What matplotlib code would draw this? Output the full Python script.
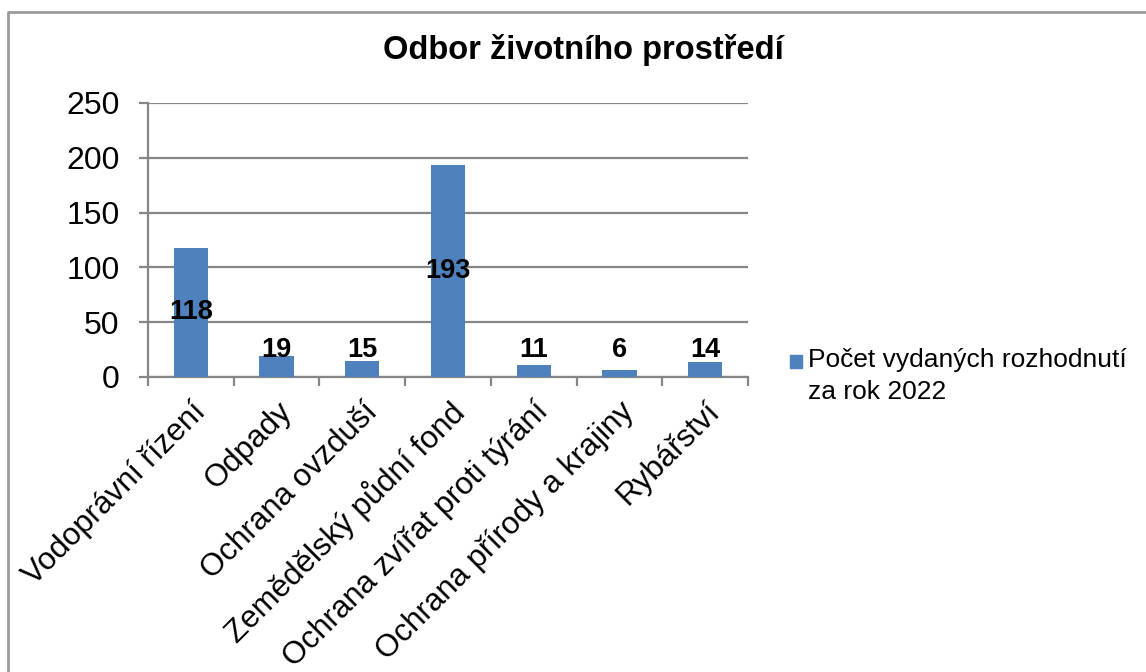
import matplotlib
matplotlib.use("Agg")
import matplotlib.pyplot as plt
from matplotlib.patches import Rectangle
from matplotlib.lines import Line2D
import numpy as np

categories = ["Vodoprávní řízení", "Odpady", "Ochrana ovzduší", "Zemědělský půdní fond",
              "Ochrana zvířat proti týrání", "Ochrana přírody a krajiny", "Rybářství"]
values = [118, 19, 15, 193, 11, 6, 14]
yticks = [0, 50, 100, 150, 200, 250]
title = "Odbor životního prostředí"
series_name = "Počet vydaných rozhodnutí\nza rok 2022"

plt.rcParams['font.family'] = ['Liberation Sans', 'DejaVu Sans']

W, H = 1146, 672
fig = plt.figure(figsize=(W / 100, H / 100), dpi=100)
ax = fig.add_axes([148 / W, 1 - 377 / H, 600 / W, 274 / H])

bar_color = "#4F81BD"
grid_color = "#868686"
x = np.arange(len(categories))
bars = ax.bar(x, values, width=0.4, color=bar_color, zorder=3)

ax.set_xlim(-0.5, len(categories) - 0.5)
ax.set_ylim(0, 250)
ax.set_yticks(yticks)
ax.set_yticklabels([str(t) for t in yticks], fontsize=23)
ax.yaxis.grid(True, color=grid_color, linewidth=1.6, zorder=0)
ax.set_axisbelow(True)

for s in ["top", "right"]:
    ax.spines[s].set_visible(False)
for s in ["left", "bottom"]:
    ax.spines[s].set_color(grid_color)
    ax.spines[s].set_linewidth(1.6)

ax.tick_params(axis="y", length=6.5, width=1.6, color=grid_color, pad=14)
# x ticks between categories
ax.set_xticks(np.arange(len(categories) + 1) - 0.5)
ax.set_xticklabels([])
ax.tick_params(axis="x", length=6.5, width=1.6, color=grid_color)
ax.set_xticks(x, minor=True)
ax.set_xticklabels(categories, minor=True, fontsize=22.5, rotation=45,
                   ha="right", va="top", rotation_mode="anchor")
ax.tick_params(axis="x", which="minor", length=0, pad=14)

for xi, v in zip(x, values):
    ypos = max(v / 2, 24.5)
    ax.text(xi, ypos, str(v), ha="center", va="center", fontsize=19.5,
            fontweight="bold", color="black", zorder=4)

fig.text(583 / W, 1 - 50 / H, title, ha="center", va="center",
         fontsize=23.5, fontweight="bold")

# legend (manual)
fig.patches.append(Rectangle((790 / W, 1 - 368 / H), 12 / W, 13 / H,
                             transform=fig.transFigure, color=bar_color))
fig.text(808 / W, 1 - 348 / H, series_name, ha="left", va="top",
         fontsize=19, linespacing=1.42)

# outer chart frame (partially visible)
fig.add_artist(Line2D([7.5 / W, 7.5 / W, 1.0], [0, 1 - 11.5 / H, 1 - 11.5 / H],
                      transform=fig.transFigure, color="#9a9a9a", linewidth=2))

fig.savefig("out.png", dpi=100)
